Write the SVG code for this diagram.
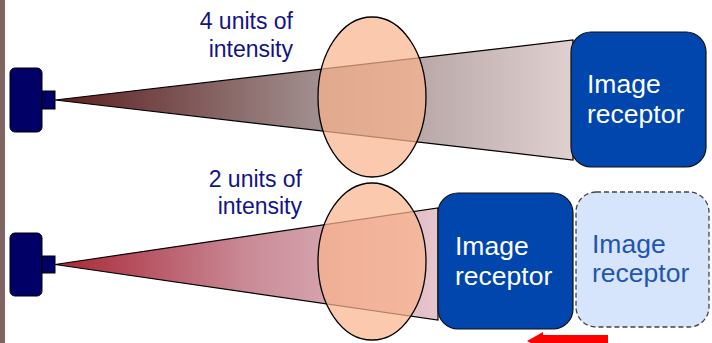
<svg xmlns="http://www.w3.org/2000/svg" width="712" height="343" viewBox="0 0 712 343">
<style>
.tube{fill:#000066;stroke:#000;stroke-width:1}
.beam{stroke:#000;stroke-width:1.2}
.lens{fill:#f9b48e;fill-opacity:0.72;stroke:#000;stroke-width:1.3}
.rec{fill:#0046ad;stroke:#111;stroke-width:1.2}
.recd{fill:#d6e5fb;stroke:#444;stroke-width:1.3;stroke-dasharray:5 3}
.lbl{font-family:"Liberation Sans",Arial,sans-serif;font-size:23px;fill:#12128a;text-anchor:end}
.rt{font-family:"Liberation Sans",Arial,sans-serif;font-size:26.5px;fill:#ffffff}
.rtd{font-family:"Liberation Sans",Arial,sans-serif;font-size:26.5px;fill:#1f55b0}
</style>
<defs>
<linearGradient id="g1" gradientUnits="userSpaceOnUse" x1="55" y1="0" x2="573" y2="0">
<stop offset="0" stop-color="#5c1e1e"/>
<stop offset="0.5" stop-color="#a08d8d"/>
<stop offset="1" stop-color="#e0d0d0"/>
</linearGradient>
<linearGradient id="g2" gradientUnits="userSpaceOnUse" x1="55" y1="0" x2="438" y2="0">
<stop offset="0" stop-color="#a82636"/>
<stop offset="0.5" stop-color="#c98a96"/>
<stop offset="1" stop-color="#e6c6ce"/>
</linearGradient>
</defs>
<rect x="0" y="0" width="712" height="343" fill="#ffffff"/>
<rect x="0" y="0" width="5" height="343" fill="#806464"/>

<g id="connectors">
<polygon id="beam1" class="beam" fill="url(#g1)" points="55,100 573,40 573,160"/>
<polygon id="beam2" class="beam" fill="url(#g2)" points="55,264.5 438,208 438,320"/>
</g>

<g id="tube1">
<rect class="tube" x="10" y="68" width="32" height="64" rx="5"/>
<rect class="tube" x="42" y="91" width="13" height="18"/>
</g>
<g id="tube2">
<rect class="tube" x="10" y="233" width="32" height="63" rx="5"/>
<rect class="tube" x="42" y="256" width="13" height="17"/>
</g>

<g id="lens1"><ellipse class="lens" cx="372" cy="97" rx="54" ry="80"/></g>
<g id="lens2"><ellipse class="lens" cx="372" cy="261.5" rx="54" ry="78.5"/></g>

<g id="label1">
<text class="lbl" x="293" y="29">4 units of</text>
<text class="lbl" x="293" y="57">intensity</text>
</g>
<g id="label2">
<text class="lbl" x="302" y="187">2 units of</text>
<text class="lbl" x="302" y="214">intensity</text>
</g>

<g id="receptor1">
<rect class="rec" x="571" y="32" width="135" height="135" rx="20"/>
<text class="rt" x="587" y="93">Image</text>
<text class="rt" x="587" y="123">receptor</text>
</g>
<g id="receptor2">
<rect class="rec" x="438" y="193" width="135" height="136" rx="20"/>
<text class="rt" x="455" y="255">Image</text>
<text class="rt" x="455" y="285">receptor</text>
</g>
<g id="receptor3">
<rect class="recd" x="576" y="192" width="133" height="135" rx="20"/>
<text class="rtd" x="592" y="253">Image</text>
<text class="rtd" x="592" y="282">receptor</text>
</g>

<g id="arrow">
<polygon fill="#ff0000" points="608,335 543,335 543,332 527,341 543,350 543,347 608,347"/>
</g>
</svg>
